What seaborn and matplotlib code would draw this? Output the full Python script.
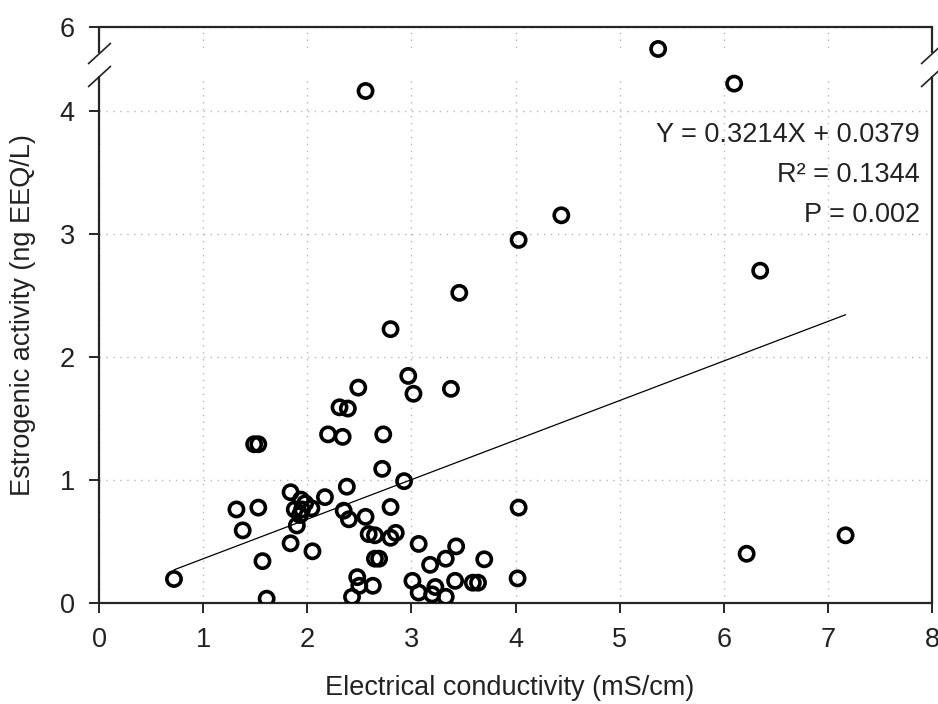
import numpy as np
import pandas as pd
import matplotlib
matplotlib.use("Agg")
import matplotlib.pyplot as plt
import seaborn as sns

# ---- data ----
conductivity = [0.72, 1.32, 1.38, 1.49, 1.53, 1.53, 1.57, 1.61, 1.84, 1.84,
                1.88, 1.90, 1.93, 1.94, 1.95, 1.98, 2.04, 2.05, 2.17, 2.20,
                2.31, 2.34, 2.35, 2.38, 2.39, 2.40, 2.43, 2.48, 2.49, 2.50,
                2.56, 2.56, 2.59, 2.63, 2.65, 2.65, 2.69, 2.72, 2.73, 2.80,
                2.80, 2.80, 2.85, 2.93, 2.97, 3.01, 3.02, 3.07, 3.07, 3.18,
                3.20, 3.23, 3.33, 3.33, 3.38, 3.42, 3.43, 3.46, 3.59, 3.64,
                3.70, 4.02, 4.03, 4.03, 4.44, 5.37, 6.10, 6.22, 6.35, 7.17]
activity = [0.195, 0.76, 0.59, 1.29, 1.29, 0.775, 0.34, 0.035, 0.90, 0.485,
            0.76, 0.63, 0.715, 0.84, 0.76, 0.81, 0.77, 0.42, 0.86, 1.37,
            1.59, 1.35, 0.75, 0.945, 1.58, 0.68, 0.05, 0.21, 1.75, 0.14,
            4.16, 0.70, 0.56, 0.14, 0.55, 0.36, 0.36, 1.09, 1.37, 2.225,
            0.78, 0.53, 0.57, 0.99, 1.845, 0.18, 1.70, 0.48, 0.085, 0.31,
            0.07, 0.13, 0.36, 0.05, 1.74, 0.18, 0.46, 2.52, 0.165, 0.165,
            0.355, 0.20, 0.775, 2.95, 3.15, 5.15, 4.22, 0.40, 2.70, 0.55]
slope, intercept = 0.3214, 0.0379
stats_lines = ["Y = 0.3214X + 0.0379", "R² = 0.1344", "P = 0.002"]
x_ticks = [0, 1, 2, 3, 4, 5, 6, 7, 8]
y_ticks = [0, 1, 2, 3, 4, 6]

# ---- broken y axis as a piecewise-linear scale ----
B_LO, B_HI, D_HI, K_TOP = 4.28, 5.0, 4.47, 0.21


def fwd(y):
    y = np.asarray(y, dtype=float)
    mid = B_LO + (y - B_LO) * (D_HI - B_LO) / (B_HI - B_LO)
    top = D_HI + (y - B_HI) * K_TOP
    return np.where(y <= B_LO, y, np.where(y >= B_HI, top, mid))


def inv(d):
    d = np.asarray(d, dtype=float)
    mid = B_LO + (d - B_LO) * (B_HI - B_LO) / (D_HI - B_LO)
    top = B_HI + (d - D_HI) / K_TOP
    return np.where(d <= B_LO, d, np.where(d >= D_HI, top, mid))


sns.set_theme(style="white")
plt.rcParams["font.family"] = ["Liberation Sans", "DejaVu Sans"]

FS = 19.5
TXT_C = "#222222"
df = pd.DataFrame({"x": conductivity, "y": activity})

fig = plt.figure(figsize=(9.38, 7.04), dpi=100)
ax = fig.add_axes([99 / 938, 1 - 603 / 704, 833 / 938, 576 / 704])
ax.set_yscale("function", functions=(fwd, inv))

spine_c = "#262626"
ax.set_axisbelow(True)
ax.grid(True, color="#b8b8b8", linestyle=(0, (1, 4)), linewidth=1.0)

# white band hiding gridlines across the break
ax.axhspan(B_LO, B_HI, color="white", zorder=1, linewidth=0)

sns.scatterplot(data=df, x="x", y="y", ax=ax, marker="o", s=105,
                color="black", linewidth=2.6, zorder=3, legend=False)
coll = ax.collections[-1]
coll.set_facecolor("none")
coll.set_edgecolor("black")

xs = np.array([min(conductivity), max(conductivity)])
line_df = pd.DataFrame({"x": xs, "y": slope * xs + intercept})
sns.lineplot(data=line_df, x="x", y="y", ax=ax, color="black",
             linewidth=0.9, zorder=2)

ax.set_xlim(0, 8)
ax.set_ylim(0, 6)
ax.set_xticks(x_ticks)
ax.set_yticks(y_ticks)
ax.set_xticklabels([str(t) for t in x_ticks])
ax.set_yticklabels([str(t) for t in y_ticks])
ax.tick_params(axis="both", which="major", labelsize=FS, colors=spine_c,
               labelcolor=TXT_C, direction="out", length=7, width=1.4,
               left=True, bottom=True, right=False, top=False)
ax.tick_params(axis="y", pad=10.5)
ax.tick_params(axis="x", pad=10)

for side in ["top", "bottom"]:
    ax.spines[side].set_color(spine_c)
    ax.spines[side].set_linewidth(1.6)
for side in ["left", "right"]:
    ax.spines[side].set_visible(False)

yt = ax.get_yaxis_transform()
for xa in (0, 1):
    ax.plot([xa, xa], [0, B_LO], transform=yt, color=spine_c, lw=1.6,
            clip_on=False, zorder=4, solid_capstyle="butt")
    ax.plot([xa, xa], [B_HI, 6], transform=yt, color=spine_c, lw=1.6,
            clip_on=False, zorder=4, solid_capstyle="butt")
    ax.plot([xa, xa], [B_LO, B_HI], transform=yt, linestyle="none",
            marker=[(-1, -0.92), (1, 0.92)], markersize=16.5,
            markeredgecolor=TXT_C, markeredgewidth=1.2,
            clip_on=False, zorder=5)

for i, txt in enumerate(stats_lines):
    ax.text(0.9856, 0.812 - i * 0.0695, txt, transform=ax.transAxes,
            ha="right", va="center", fontsize=FS, color=TXT_C)

ax.set_xlabel("Electrical conductivity (mS/cm)", fontsize=FS, color=TXT_C)
ax.set_ylabel("Estrogenic activity (ng EEQ/L)", fontsize=FS, color=TXT_C)
ax.xaxis.set_label_coords(0.493, -0.125)
ax.yaxis.set_label_coords(-0.076, 0.5)

fig.savefig("out.png", dpi=100)
